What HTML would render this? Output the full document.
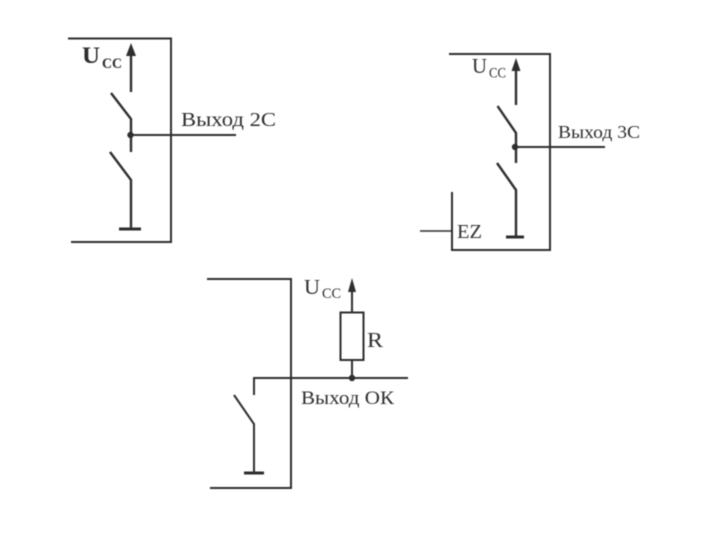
<!DOCTYPE html>
<html>
<head>
<meta charset="utf-8">
<style>
html,body{margin:0;padding:0;background:#fff;width:720px;height:540px;overflow:hidden}
svg{display:block;filter:blur(0.4px)}
text{font-family:"Liberation Serif",serif;fill:#2e2e2e}
.l{stroke:#2e2e2e;stroke-width:2;fill:none}
.t{stroke:#2e2e2e;stroke-width:3;fill:none}
.a{fill:#2e2e2e;stroke:none}
</style>
</head>
<body>
<svg width="720" height="540" viewBox="0 0 720 540" xmlns="http://www.w3.org/2000/svg">
<rect width="720" height="540" fill="#fff"/>

<!-- 2C -->
<path class="l" d="M68 38.500H171V242H71"/>
<path class="l" style="stroke-width:2.400" d="M131 92V54"/>
<path class="a" d="M131 43L136 56H126Z"/>
<path class="l" style="stroke-width:2.400" d="M111 93L131 119V152"/>
<path class="l" style="stroke-width:2.400" d="M110 152L131 180V229"/>
<path class="t" d="M119 229H141"/>
<path class="l" d="M131 135H236"/>
<circle class="a" cx="130.500" cy="135" r="3.200"/>
<text x="82" y="63" font-size="23" font-weight="bold" textLength="18" lengthAdjust="spacingAndGlyphs">U</text>
<text x="102" y="68" font-size="15" font-weight="bold" textLength="20" lengthAdjust="spacingAndGlyphs">CC</text>
<text x="181" y="126" font-size="19.500" textLength="95" lengthAdjust="spacingAndGlyphs">Выход 2С</text>

<!-- 3C -->
<path class="l" d="M449 54H550V250H452V192"/>
<path class="l" style="stroke-width:1.500" d="M420 231H452"/>
<path class="l" style="stroke-width:2.400" d="M516 105V68"/>
<path class="a" d="M516 58L520.500 71H511.500Z"/>
<path class="l" style="stroke-width:2.400" d="M497.500 106L516 133V163"/>
<path class="l" style="stroke-width:2.400" d="M497 163L516 190V237"/>
<path class="t" d="M506 237H524"/>
<path class="l" d="M516 147H605"/>
<circle class="a" cx="515" cy="147" r="3.200"/>
<text x="472" y="73" font-size="21" textLength="15" lengthAdjust="spacingAndGlyphs">U</text>
<text x="489" y="77.500" font-size="14.500" textLength="17" lengthAdjust="spacingAndGlyphs">CC</text>
<text x="558" y="138" font-size="18" textLength="82" lengthAdjust="spacingAndGlyphs">Выход 3С</text>
<text x="457" y="238" font-size="19.500" textLength="25" lengthAdjust="spacingAndGlyphs">EZ</text>

<!-- OK -->
<path class="l" d="M207 279H291V488H210"/>
<path class="l" d="M352 312V289"/>
<path class="a" d="M352 278L356 292H348Z"/>
<rect class="l" x="340.500" y="312.500" width="23" height="47.500"/>
<path class="l" d="M352 360V378"/>
<path class="l" d="M254 395V378H408"/>
<path class="l" d="M234 395L254 424V473"/>
<path class="t" d="M244 473H264"/>
<circle class="a" cx="352" cy="378" r="3.200"/>
<text x="304" y="294" font-size="21" textLength="16" lengthAdjust="spacingAndGlyphs">U</text>
<text x="322" y="298" font-size="14.500" textLength="19" lengthAdjust="spacingAndGlyphs">CC</text>
<text x="367" y="347" font-size="21.500" textLength="16" lengthAdjust="spacingAndGlyphs">R</text>
<text x="301" y="404" font-size="18.500" textLength="93" lengthAdjust="spacingAndGlyphs">Выход ОК</text>
</svg>
</body>
</html>
